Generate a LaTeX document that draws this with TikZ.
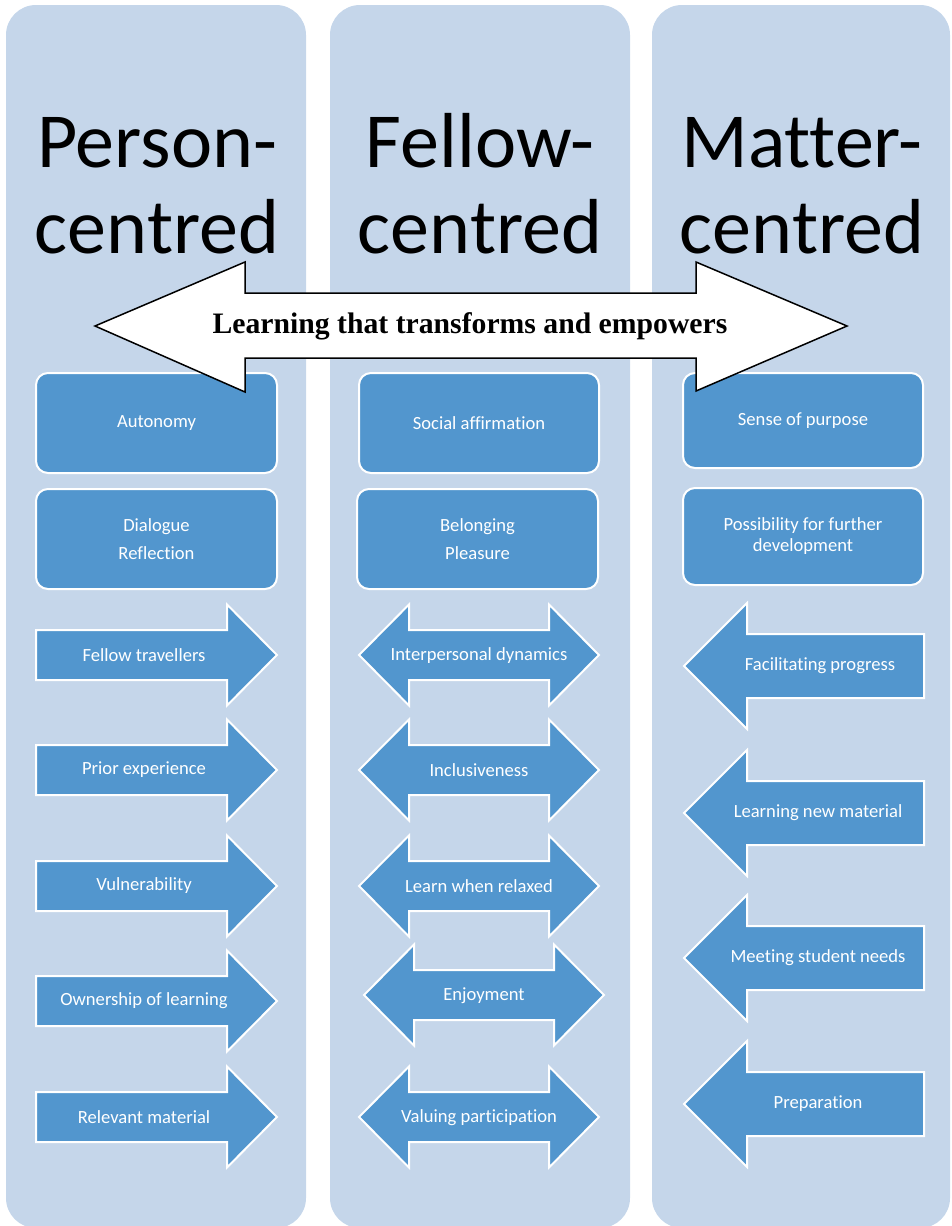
\documentclass[tikz,border=0pt]{standalone}
\usepackage{fontspec}
\setmainfont{Carlito}[Ligatures=NoCommon]
\newfontfamily\bannerfont{Liberation Serif}
\usetikzlibrary{positioning}
\newlength{\du}
\setlength{\du}{0.5pt}
\definecolor{columnfill}{RGB}{197,214,234}
\definecolor{shapefill}{RGB}{82,150,206}
\tikzset{
  column/.style={fill=columnfill, rounded corners=30\du},
  bluebox/.style={draw=white, fill=shapefill, line width=2\du, rounded corners=12\du,
    text=white, font=\fontsize{9.3}{14}\selectfont, align=center, inner sep=0pt},
  bluearrow/.style={draw=white, fill=shapefill, line width=2\du, line join=miter},
  arrowtext/.style={text=white, font=\fontsize{9.3}{11}\selectfont, inner sep=0pt},
  titletext/.style={font=\fontsize{39}{43}\selectfont, align=center, inner sep=0pt, anchor=base},
  banner/.style={draw=black, fill=white, line width=1.5\du, line join=miter},
}

\begin{document}
\begin{tikzpicture}
\pgftransformxscale{1.000000}
\pgftransformyscale{-1.000000}
\useasboundingbox (0\du,0\du) rectangle (952\du,1226\du);
% columns
\fill[column] (6\du,5\du) rectangle (306\du,1228\du);
\fill[column] (330\du,5\du) rectangle (630\du,1228\du);
\fill[column] (652\du,5\du) rectangle (950\du,1228\du);
% titles
\node[titletext] (person) at (157\du,253\du) {Person-\\centred};
\node[titletext] (fellow) at (480\du,253\du) {Fellow-\\centred};
\node[titletext] (matter) at (802\du,253\du) {Matter-\\centred};
% boxes
\node[bluebox, minimum width=241\du, minimum height=100\du] (autonomy) at (156.5\du,423\du) {Autonomy};
\node[bluebox, minimum width=241\du, minimum height=100\du] (dialogue) at (156.5\du,539\du) {Dialogue\\Reflection};
\node[bluebox, minimum width=240\du, minimum height=100\du] (social) at (479\du,423\du) {Social affirmation};
\node[bluebox, minimum width=241\du, minimum height=100\du] (belonging) at (477.5\du,539\du) {Belonging\\Pleasure};
\node[bluebox, minimum width=240\du, minimum height=95\du] (purpose) at (803\du,420.5\du) {Sense of purpose};
\node[bluebox, minimum width=240\du, minimum height=97\du, font=\fontsize{9.3}{10.5}\selectfont] (further) at (803\du,536.5\du) {Possibility for further\\development};
% person-centred arrows
\draw[bluearrow] (36\du,630\du)--(227\du,630\du)--(227\du,604.5\du)--(277\du,655\du)--(227\du,705.5\du)--(227\du,680\du)--(36\du,680\du)--cycle;
\node[arrowtext] (travellers) at (144\du,655\du) {Fellow travellers};
\draw[bluearrow] (36\du,745\du)--(227\du,745\du)--(227\du,719.5\du)--(277\du,770\du)--(227\du,820.5\du)--(227\du,795\du)--(36\du,795\du)--cycle;
\node[arrowtext] (prior) at (144\du,770\du) {Prior experience};
\draw[bluearrow] (36\du,861\du)--(227\du,861\du)--(227\du,835.5\du)--(277\du,886\du)--(227\du,936.5\du)--(227\du,911\du)--(36\du,911\du)--cycle;
\node[arrowtext] (vulnerability) at (144\du,886\du) {Vulnerability};
\draw[bluearrow] (36\du,976\du)--(227\du,976\du)--(227\du,950.5\du)--(277\du,1001\du)--(227\du,1051.5\du)--(227\du,1026\du)--(36\du,1026\du)--cycle;
\node[arrowtext] (ownership) at (144\du,1001\du) {Ownership of learning};
\draw[bluearrow] (36\du,1092\du)--(227\du,1092\du)--(227\du,1066.5\du)--(277\du,1117\du)--(227\du,1167.5\du)--(227\du,1142\du)--(36\du,1142\du)--cycle;
\node[arrowtext] (relevant) at (144\du,1117\du) {Relevant material};
% fellow-centred arrows
\draw[bluearrow] (359\du,655\du)--(409\du,604.5\du)--(409\du,630\du)--(549\du,630\du)--(549\du,604.5\du)--(599\du,655\du)--(549\du,705.5\du)--(549\du,680\du)--(409\du,680\du)--(409\du,705.5\du)--cycle;
\node[arrowtext] (dynamics) at (479\du,656\du) {Interpersonal dynamics};
\draw[bluearrow] (359\du,770\du)--(409\du,719.5\du)--(409\du,745\du)--(549\du,745\du)--(549\du,719.5\du)--(599\du,770\du)--(549\du,820.5\du)--(549\du,795\du)--(409\du,795\du)--(409\du,820.5\du)--cycle;
\node[arrowtext] (inclusive) at (479\du,770\du) {Inclusiveness};
\draw[bluearrow] (359\du,886\du)--(409\du,835.5\du)--(409\du,861\du)--(549\du,861\du)--(549\du,835.5\du)--(599\du,886\du)--(549\du,936.5\du)--(549\du,911\du)--(409\du,911\du)--(409\du,936.5\du)--cycle;
\node[arrowtext] (relaxed) at (479\du,886\du) {Learn when relaxed};
\draw[bluearrow] (364\du,995\du)--(414\du,944.5\du)--(414\du,970\du)--(554\du,970\du)--(554\du,944.5\du)--(604\du,995\du)--(554\du,1045.5\du)--(554\du,1020\du)--(414\du,1020\du)--(414\du,1045.5\du)--cycle;
\node[arrowtext] (enjoyment) at (484\du,996\du) {Enjoyment};
\draw[bluearrow] (359\du,1117\du)--(409\du,1066.5\du)--(409\du,1092\du)--(549\du,1092\du)--(549\du,1066.5\du)--(599\du,1117\du)--(549\du,1167.5\du)--(549\du,1142\du)--(409\du,1142\du)--(409\du,1167.5\du)--cycle;
\node[arrowtext] (valuing) at (479\du,1118\du) {Valuing participation};
% matter-centred arrows
\draw[bluearrow] (684\du,666\du)--(747\du,603\du)--(747\du,634\du)--(924\du,634\du)--(924\du,698\du)--(747\du,698\du)--(747\du,729\du)--cycle;
\node[arrowtext] (progress) at (820\du,666\du) {Facilitating progress};
\draw[bluearrow] (684\du,813\du)--(747\du,750\du)--(747\du,781\du)--(924\du,781\du)--(924\du,845\du)--(747\du,845\du)--(747\du,876\du)--cycle;
\node[arrowtext] (newmaterial) at (818\du,813\du) {Learning new material};
\draw[bluearrow] (684\du,958\du)--(747\du,895\du)--(747\du,926\du)--(924\du,926\du)--(924\du,990\du)--(747\du,990\du)--(747\du,1021\du)--cycle;
\node[arrowtext] (needs) at (818\du,958\du) {Meeting student needs};
\draw[bluearrow] (684\du,1104\du)--(747\du,1041\du)--(747\du,1072\du)--(924\du,1072\du)--(924\du,1136\du)--(747\du,1136\du)--(747\du,1167\du)--cycle;
\node[arrowtext] (preparation) at (818\du,1104\du) {Preparation};
% banner
\draw[banner] (95\du,326\du)--(245\du,262\du)--(245\du,293\du)--(696\du,293\du)--(696\du,262\du)--(847\du,326\du)--(696\du,391\du)--(696\du,358\du)--(245\du,358\du)--(245\du,392\du)--cycle;
\node[font=\bannerfont\bfseries\fontsize{14.85}{18}\selectfont, inner sep=0pt, anchor=base] (learning) at (470\du,333\du) {Learning that transforms and empowers};
\end{tikzpicture}
\end{document}
